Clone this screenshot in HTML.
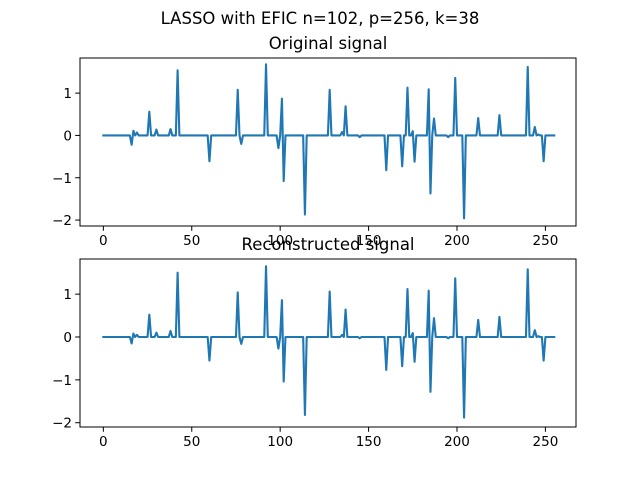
<!DOCTYPE html>
<html><head><meta charset="utf-8"><style>
body{margin:0;background:#fff;}
svg{display:block;font-family:"DejaVu Sans","Liberation Sans",sans-serif;}
</style></head><body>
<svg id="fig" width="640" height="480">
<rect width="640" height="480" fill="#fff"/>
<text x="320" y="24" text-anchor="middle" font-size="16.5">LASSO with EFIC n=102, p=256, k=38</text>
</svg>
<script>
const spikeIdx = [16,17,19,26,30,38,42,60,76,78,92,99,101,102,114,128,135,137,145,160,169,172,175,176,184,185,187,195,199,204,212,224,240,244,246,249];
const originalVals = [-0.22,0.11,0.07,0.56,0.14,0.15,1.54,-0.61,1.08,-0.2,1.68,-0.3,0.87,-1.08,-1.87,1.08,0.08,0.69,-0.04,-0.82,-0.73,1.13,0.1,-0.62,1.09,-1.37,0.4,-0.04,1.36,-1.96,0.41,0.48,1.62,0.2,0.02,-0.61];
const reconVals = [-0.15,0.08,0.05,0.52,0.1,0.14,1.5,-0.55,1.04,-0.16,1.65,-0.27,0.86,-1.04,-1.82,1.06,0.05,0.64,-0.03,-0.77,-0.68,1.12,0.09,-0.58,1.08,-1.28,0.44,-0.03,1.37,-1.88,0.4,0.47,1.58,0.16,0.02,-0.55];
const xTicks = [0,50,100,150,200,250];
const yTicks = [-2,-1,0,1];
const N = 256;
const NS = "http://www.w3.org/2000/svg";
const svg = document.getElementById('fig');
function mk(tag, attrs, parent){const e=document.createElementNS(NS,tag);for(const k in attrs)e.setAttribute(k,attrs[k]);(parent||svg).appendChild(e);return e;}
function series(vals){const a=new Array(N).fill(0);spikeIdx.forEach((i,j)=>a[i]=vals[j]);return a;}
function panel(top,bottom,ymin,ymax,title,vals,prefix){
  const L=80,R=576,xmin=-13.2,xmax=267.3;
  const xs=v=>L+(v-xmin)/(xmax-xmin)*(R-L);
  const ys=v=>bottom-(v-ymin)/(ymax-ymin)*(bottom-top);
  const g=mk('g',{});
  
  
  const t=mk('text',{x:(L+R)/2,y:top-9,'text-anchor':'middle','font-size':16.5},g);
  t.textContent=title;
  
  
  const data=series(vals);
  const pts=data.map((v,i)=>xs(i).toFixed(2)+','+ys(v).toFixed(2)).join(' ');
  const pl=mk('polyline',{points:pts,fill:'none',stroke:'#1f77b4','stroke-width':2.1,'stroke-linejoin':'round','stroke-linecap':'square'},g);
  
  
  const fr=mk('rect',{x:L,y:top,width:R-L,height:bottom-top,fill:'none',stroke:'#000','stroke-width':1},g);
  
  
  xTicks.forEach(v=>{
    const x=xs(v);
    mk('line',{x1:x,x2:x,y1:bottom,y2:bottom+4.8,stroke:'#000','stroke-width':1},g);
    const tl=mk('text',{x:x,y:bottom+19,'text-anchor':'middle','font-size':13.5},g);
    tl.textContent=v;
    
    
  });
  yTicks.forEach(v=>{
    const y=ys(v);
    mk('line',{x1:L-4.8,x2:L,y1:y,y2:y,stroke:'#000','stroke-width':1},g);
    const tl=mk('text',{x:L-8,y:y+5,'text-anchor':'end','font-size':13.5},g);
    tl.textContent=(v<0?'\u2212'+(-v):v);
    
    
  });
}
panel(58,226,-2.14,1.83,'Original signal',originalVals,'original');
panel(259,427,-2.10,1.82,'Reconstructed signal',reconVals,'reconstructed');
</script>
</body></html>
